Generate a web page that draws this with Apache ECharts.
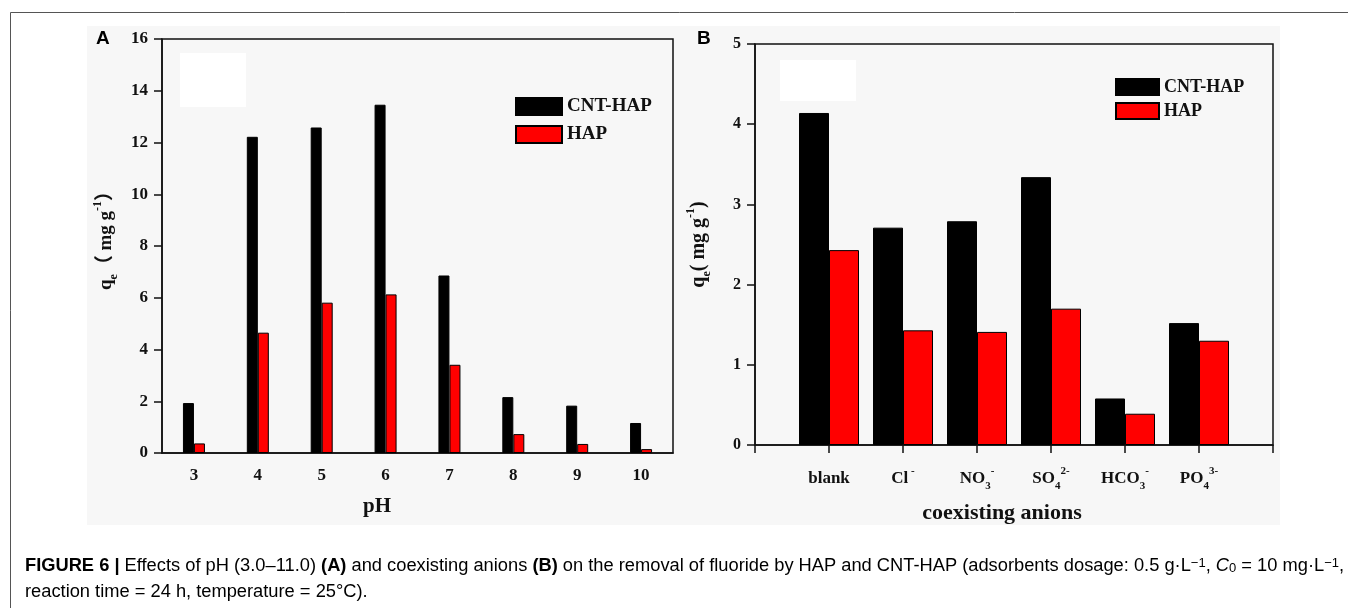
<!DOCTYPE html>
<html>
<head>
<meta charset="utf-8">
<script src="https://cdn.jsdelivr.net/npm/echarts@6/dist/echarts.min.js"></script>
<style>
  html, body { margin: 0; padding: 0; background: #fff; }
  #chart { width: 1348px; height: 608px; }
</style>
</head>
<body>
<div id="chart"></div>
<script>
// Panel A: fluoride uptake vs. solution pH
const phCategories = ['3', '4', '5', '6', '7', '8', '9', '10'];
const phCntHap = [1.93, 12.22, 12.58, 13.46, 6.86, 2.16, 1.83, 1.16];
const phHap = [0.37, 4.65, 5.81, 6.13, 3.41, 0.73, 0.35, 0.15];
const phAxisTicks = { min: 0, max: 16, interval: 2 };

// Panel B: fluoride uptake with coexisting anions
const anionLabels = ['blank', 'Cl{sup| -}', 'NO{sub|3}{sup|-}', 'SO{sub|4}{sup|2-}', 'HCO{sub|3}{sup|-}', 'PO{sub|4}{sup|3-}'];
const anionCntHap = [4.14, 2.71, 2.79, 3.34, 0.58, 1.52];
const anionHap = [2.43, 1.43, 1.41, 1.70, 0.39, 1.30];
const anionAxisTicks = { min: 0, max: 5, interval: 1 };

const seriesNames = ['CNT-HAP', 'HAP'];
const seriesColors = ['#000000', '#ff0000'];

const SERIF = '"Liberation Serif", "Times New Roman", "Noto Sans CJK SC", serif';
const SANS = '"Liberation Sans", Arial, Helvetica, sans-serif';
const INK = '#111';

const supSub = (size) => ({
  sup: { fontSize: size, fontWeight: 'bold', fontFamily: SERIF, color: INK, verticalAlign: 'top' },
  sub: { fontSize: size, fontWeight: 'bold', fontFamily: SERIF, color: INK, verticalAlign: 'bottom' }
});

function qeName(open, close, size) {
  return {
    text: '{m|q}{sub|e}{m|' + open + ' mg g}{sup|-1}{m|' + close + '}',
    rich: Object.assign({
      m: { fontSize: size, fontWeight: 'bold', fontFamily: SERIF, color: INK, lineHeight: 28 }
    }, supSub(12))
  };
}

const nameA = qeName('（', '）', 19);
const nameB = qeName('(', ')', 20);

// anion axis: an empty slot on each end so the six groups sit on interior ticks
const anionAxisData = [''].concat(anionLabels, ['']);
const padEnds = (arr) => [null].concat(arr, [null]);

function frameAxisLine() {
  return { show: true, lineStyle: { color: INK, width: 1.5 } };
}

function barSeries(name, color, xi, data, width) {
  return {
    type: 'bar',
    name: name,
    xAxisIndex: xi,
    yAxisIndex: xi,
    data: data,
    barWidth: width,
    barGap: '0%',
    itemStyle: { color: color, borderColor: '#000', borderWidth: 1 },
    emphasis: { disabled: true }
  };
}

const legendText = (size) => ({ fontFamily: SERIF, fontWeight: 'bold', fontSize: size, color: INK });

const CAP = 18.3;
const captionRich = {
  n: { fontFamily: SANS, fontSize: CAP, color: '#222' },
  b: { fontFamily: SANS, fontSize: CAP, fontWeight: 'bold', color: '#222' },
  i: { fontFamily: SANS, fontSize: CAP, fontStyle: 'italic', color: '#222' },
  sup: { fontFamily: SANS, fontSize: 13, color: '#222', verticalAlign: 'top' },
  sub: { fontFamily: SANS, fontSize: 13, color: '#222', verticalAlign: 'bottom' }
};

const option = {
  animation: false,
  backgroundColor: '#ffffff',
  graphic: [
    { type: 'rect', z: -100, silent: true, shape: { x: 87, y: 26, width: 1193, height: 499 }, style: { fill: '#f7f7f7' } },
    { type: 'rect', z: -99, silent: true, shape: { x: 180, y: 53, width: 66, height: 54 }, style: { fill: '#ffffff' } },
    { type: 'rect', z: -99, silent: true, shape: { x: 780, y: 60, width: 76, height: 41 }, style: { fill: '#ffffff' } },
    { type: 'rect', z: -98, silent: true, shape: { x: 10.5, y: 12.5, width: 1400, height: 700 }, style: { fill: 'none', stroke: '#555', lineWidth: 1 } },
    { type: 'text', x: 96, y: 29, style: { text: 'A', font: 'bold 19px ' + SANS, fill: '#000' } },
    { type: 'text', x: 697, y: 29, style: { text: 'B', font: 'bold 19px ' + SANS, fill: '#000' } },
    {
      type: 'text', x: 25, y: 566,
      style: {
        text: '{b|FIGURE 6 | }{n|Effects of pH (3.0–11.0) }{b|(A)}{n| and coexisting anions }{b|(B)}{n| on the removal of fluoride by HAP and CNT-HAP (adsorbents dosage: 0.5 g·L}{sup|−1}{n|, }{i|C}{sub|0}{n| = 10 mg·L}{sup|−1}{n|,}',
        rich: captionRich,
        verticalAlign: 'middle'
      }
    },
    {
      type: 'text', x: 25, y: 592,
      style: {
        text: '{n|reaction time = 24 h, temperature = 25°C).}',
        rich: captionRich,
        verticalAlign: 'middle'
      }
    }
  ],
  legend: [
    {
      left: 510, top: 92, orient: 'vertical', icon: 'rect',
      itemWidth: 46, itemHeight: 17, itemGap: 9, selectedMode: false,
      data: seriesNames, textStyle: legendText(19)
    },
    {
      left: 1110, top: 73, orient: 'vertical', icon: 'rect',
      itemWidth: 43, itemHeight: 16, itemGap: 6, selectedMode: false,
      data: seriesNames, textStyle: legendText(18)
    }
  ],
  grid: [
    { left: 162, top: 39, width: 511, height: 414, show: true, borderColor: INK, borderWidth: 1.5, backgroundColor: 'transparent' },
    { left: 755, top: 44, width: 518, height: 401, show: true, borderColor: INK, borderWidth: 1.5, backgroundColor: 'transparent' }
  ],
  xAxis: [
    {
      gridIndex: 0, type: 'category', data: phCategories,
      axisLine: frameAxisLine(),
      axisTick: { alignWithLabel: true, length: 8, lineStyle: { color: INK, width: 1.5 } },
      axisLabel: { margin: 14, fontFamily: SERIF, fontWeight: 'bold', fontSize: 17, color: INK },
      splitLine: { show: false },
      name: 'pH', nameLocation: 'middle', nameGap: 43,
      nameTextStyle: { fontFamily: SERIF, fontWeight: 'bold', fontSize: 21, color: INK, padding: [0, 81, 0, 0] }
    },
    {
      gridIndex: 1, type: 'category', boundaryGap: false, data: anionAxisData,
      axisLine: frameAxisLine(),
      axisTick: { length: 8, lineStyle: { color: INK, width: 1.5 } },
      axisLabel: {
        margin: 21, interval: 0, fontFamily: SERIF, fontWeight: 'bold', fontSize: 17, color: INK,
        lineHeight: 26, rich: supSub(11)
      },
      splitLine: { show: false },
      name: 'coexisting anions', nameLocation: 'middle', nameGap: 57,
      nameTextStyle: { fontFamily: SERIF, fontWeight: 'bold', fontSize: 22, color: INK, padding: [0, 24, 0, 0] }
    }
  ],
  yAxis: [
    {
      gridIndex: 0, type: 'value',
      min: phAxisTicks.min, max: phAxisTicks.max, interval: phAxisTicks.interval,
      axisLine: frameAxisLine(),
      axisTick: { show: true, length: 8, lineStyle: { color: INK, width: 1.5 } },
      axisLabel: { margin: 14, fontFamily: SERIF, fontWeight: 'bold', fontSize: 17, color: INK },
      splitLine: { show: false },
      name: nameA.text, nameLocation: 'middle', nameGap: 42,
      nameTextStyle: { rich: nameA.rich, padding: [0, 0, 0, 20] }
    },
    {
      gridIndex: 1, type: 'value',
      min: anionAxisTicks.min, max: anionAxisTicks.max, interval: anionAxisTicks.interval,
      axisLine: frameAxisLine(),
      axisTick: { show: true, length: 8, lineStyle: { color: INK, width: 1.5 } },
      axisLabel: { margin: 14, fontFamily: SERIF, fontWeight: 'bold', fontSize: 16, color: INK },
      splitLine: { show: false },
      name: nameB.text, nameLocation: 'middle', nameGap: 42,
      nameTextStyle: { rich: nameB.rich }
    }
  ],
  series: [
    barSeries(seriesNames[0], seriesColors[0], 0, phCntHap, 11),
    barSeries(seriesNames[1], seriesColors[1], 0, phHap, 11),
    barSeries(seriesNames[0], seriesColors[0], 1, padEnds(anionCntHap), 30),
    barSeries(seriesNames[1], seriesColors[1], 1, padEnds(anionHap), 30)
  ]
};

const chart = echarts.init(document.getElementById('chart'), null, { renderer: 'canvas' });
chart.setOption(option);
</script>
</body>
</html>
